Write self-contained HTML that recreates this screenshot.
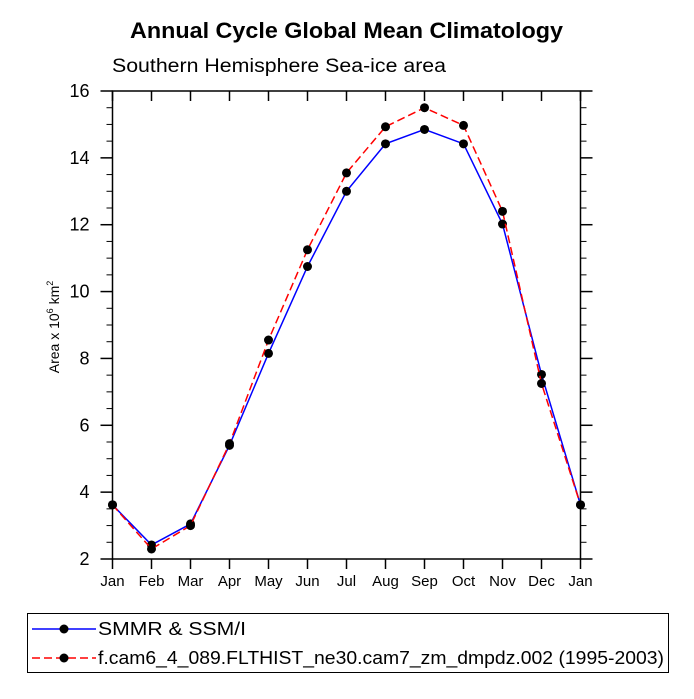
<!DOCTYPE html>
<html><head><meta charset="utf-8"><style>
body{margin:0;background:#fff;font-family:"Liberation Sans",sans-serif}
</style></head><body>
<svg width="694" height="694" xmlns="http://www.w3.org/2000/svg" font-family="Liberation Sans, sans-serif">
<rect width="694" height="694" fill="#fff"/>
<text x="130" y="38" font-size="22" font-weight="bold" textLength="433" lengthAdjust="spacingAndGlyphs">Annual Cycle Global Mean Climatology</text>
<text x="112" y="72" font-size="19" textLength="334" lengthAdjust="spacingAndGlyphs">Southern Hemisphere Sea-ice area</text>
<text transform="translate(59,327) rotate(-90)" text-anchor="middle" font-size="14">Area x 10<tspan font-size="9" dy="-6">6</tspan><tspan dy="6"> km</tspan><tspan font-size="9" dy="-6">2</tspan></text>
<g id="axes"></g>
<g id="series"></g>
<g>
<rect x="27.5" y="613.5" width="641" height="59" fill="none" stroke="#000"/>
<line x1="32" y1="629" x2="96" y2="629" stroke="#0000ff" stroke-width="1.5"/>
<circle cx="64" cy="629" r="4.5"/>
<text x="98" y="635" font-size="18" textLength="148" lengthAdjust="spacingAndGlyphs">SMMR &amp; SSM/I</text>
<line x1="32" y1="658" x2="96" y2="658" stroke="#ff0000" stroke-width="1.5" stroke-dasharray="8,4"/>
<circle cx="64" cy="658" r="4.5"/>
<text x="98" y="664" font-size="18" textLength="566" lengthAdjust="spacingAndGlyphs">f.cam6_4_089.FLTHIST_ne30.cam7_zm_dmpdz.002 (1995-2003)</text>
</g>
</svg>
<script>
const months=["Jan","Feb","Mar","Apr","May","Jun","Jul","Aug","Sep","Oct","Nov","Dec","Jan"];
const obsValues=[3.62,2.42,3.05,5.4,8.15,10.75,13.0,14.42,14.85,14.42,12.02,7.52,3.62];
const modelValues=[3.62,2.3,3.0,5.45,8.55,11.25,13.55,14.93,15.5,14.97,12.4,7.25,3.62];
const yTicks=[2,4,6,8,10,12,14,16];
const NS="http://www.w3.org/2000/svg";
const L=112.5,R=580.5,T=91,B=559,ymin=2,ymax=16;
const xs=i=>L+i*(R-L)/(months.length-1);
const ys=v=>B-(v-ymin)*(B-T)/(ymax-ymin);
function mk(tag,attrs,parent){const e=document.createElementNS(NS,tag);for(const k in attrs)e.setAttribute(k,attrs[k]);parent.appendChild(e);return e;}
const ax=document.getElementById('axes');
const frame=mk('rect',{x:L,y:T,width:R-L,height:B-T,fill:'none',stroke:'#000','stroke-width':1.5},ax);


months.forEach((m,i)=>{const x=xs(i);
mk('line',{x1:x,y1:B,x2:x,y2:B+10,stroke:'#000','stroke-width':1.5},ax);
mk('line',{x1:x,y1:T,x2:x,y2:T+10,stroke:'#000','stroke-width':1.5},ax);
const t=mk('text',{x:x,y:B+27,'text-anchor':'middle','font-size':15},ax);t.textContent=m;

});
for(let v=ymin;v<=ymax+1e-9;v+=0.5){const y=ys(v);const major=Math.abs(v-Math.round(v/2)*2)<1e-9;
const len=major?12:6;
mk('line',{x1:L-len,y1:y,x2:L,y2:y,stroke:'#000','stroke-width':major?1.5:1},ax);
mk('line',{x1:R,y1:y,x2:R+len,y2:y,stroke:'#000','stroke-width':major?1.5:1},ax);}
yTicks.forEach(v=>{const t=mk('text',{x:L-23,y:ys(v)+6,'text-anchor':'end','font-size':18},ax);t.textContent=v;

});
const sg=document.getElementById('series');
function draw(vals,color,dash,name){
const p=mk('polyline',{points:vals.map((v,i)=>xs(i)+','+ys(v)).join(' '),fill:'none',stroke:color,'stroke-width':1.5,'stroke-dasharray':dash},sg);


vals.forEach((v,i)=>{const c=mk('circle',{cx:xs(i),cy:ys(v),r:4.5,fill:'#000'},sg);

});}
draw(obsValues,'#0000ff','none','obs');
draw(modelValues,'#ff0000','8,4','model');
</script>
</body></html>
